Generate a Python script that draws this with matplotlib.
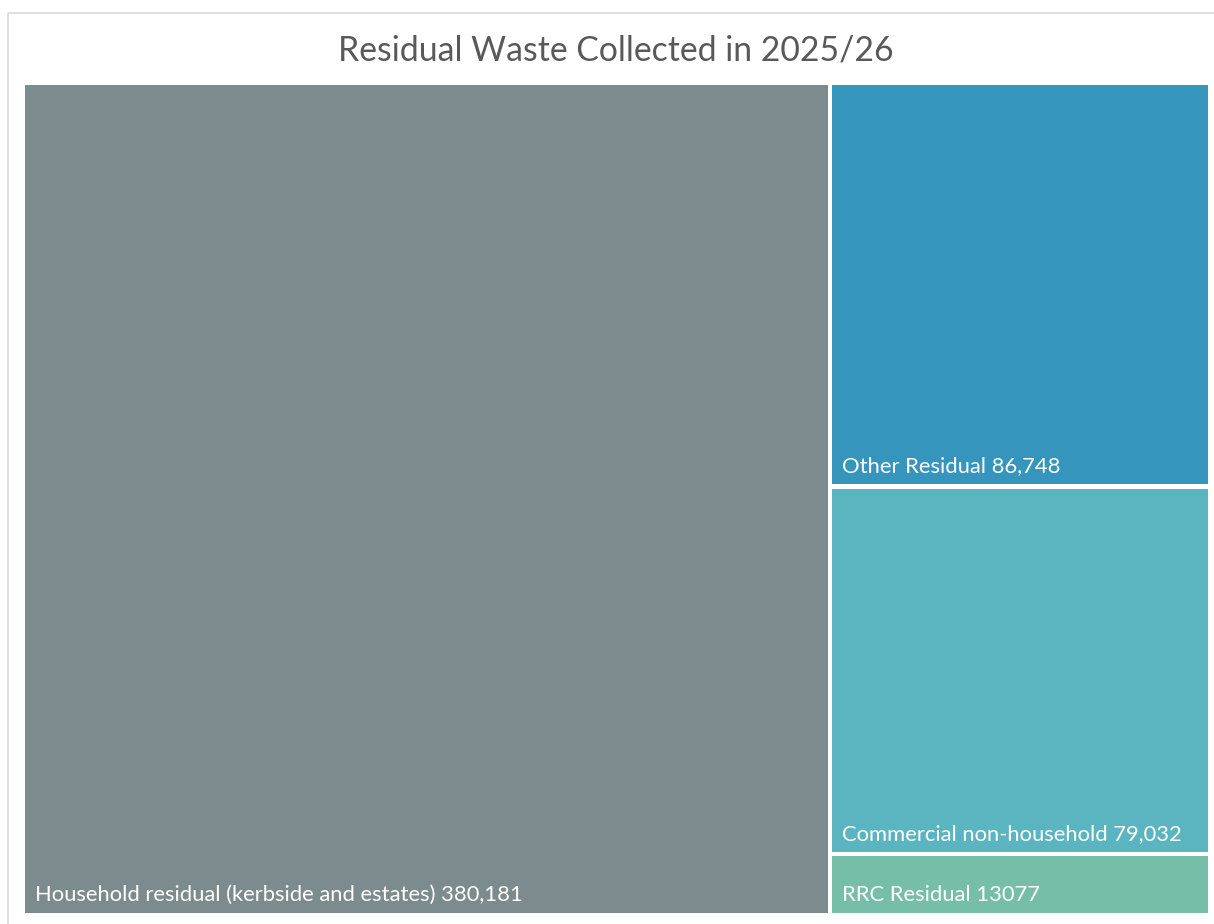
import matplotlib.pyplot as plt
from matplotlib.patches import Rectangle

# data
labels = ["Household residual (kerbside and estates)", "Other Residual",
          "Commercial non-household", "RRC Residual"]
values = [380181, 86748, 79032, 13077]
value_text = ["380,181", "86,748", "79,032", "13077"]
colors = ["#7b8b8e", "#3595bc", "#5ab5c0", "#76bea8"]

plt.rcParams['font.family'] = ['Lato', 'DejaVu Sans']

fig = plt.figure(figsize=(12.14, 9.24), dpi=100)
ax = fig.add_axes([0, 0, 1, 1])
ax.set_xlim(0, 1214)
ax.set_ylim(924, 0)
ax.axis('off')

# chart border (runs off right and bottom)
ax.add_patch(Rectangle((7.5, 12.5), 1300, 1000, fill=False, edgecolor='#d9d9d9', lw=1.2))

ax.text(616, 50, "Residual Waste Collected in 2025/26", ha='center', va='center',
        fontsize=24.3, color='#595959')

# plot area for treemap
x0, x1, y0, y1 = 23, 1210, 83, 915
gap = 2.2
total = sum(values)

# first item is a vertical slice, the rest stack in the remaining column
w_first = (x1 - x0) * values[0] / total
rects = [(x0, y0, w_first, y1 - y0)]
rest = sum(values[1:])
cy = y0
for v in values[1:]:
    h = (y1 - y0) * v / rest
    rects.append((x0 + w_first, cy, x1 - x0 - w_first, h))
    cy += h

for (rx, ry, rw, rh), lab, vt, c in zip(rects, labels, value_text, colors):
    ax.add_patch(Rectangle((rx + gap, ry + gap), rw - 2 * gap, rh - 2 * gap,
                           facecolor=c, edgecolor='none'))
    ax.text(rx + gap + 10, ry + rh - gap - 12, f"{lab} {vt}", ha='left',
            va='baseline', fontsize=15.8, color='white')

fig.savefig("out.png", dpi=100)
